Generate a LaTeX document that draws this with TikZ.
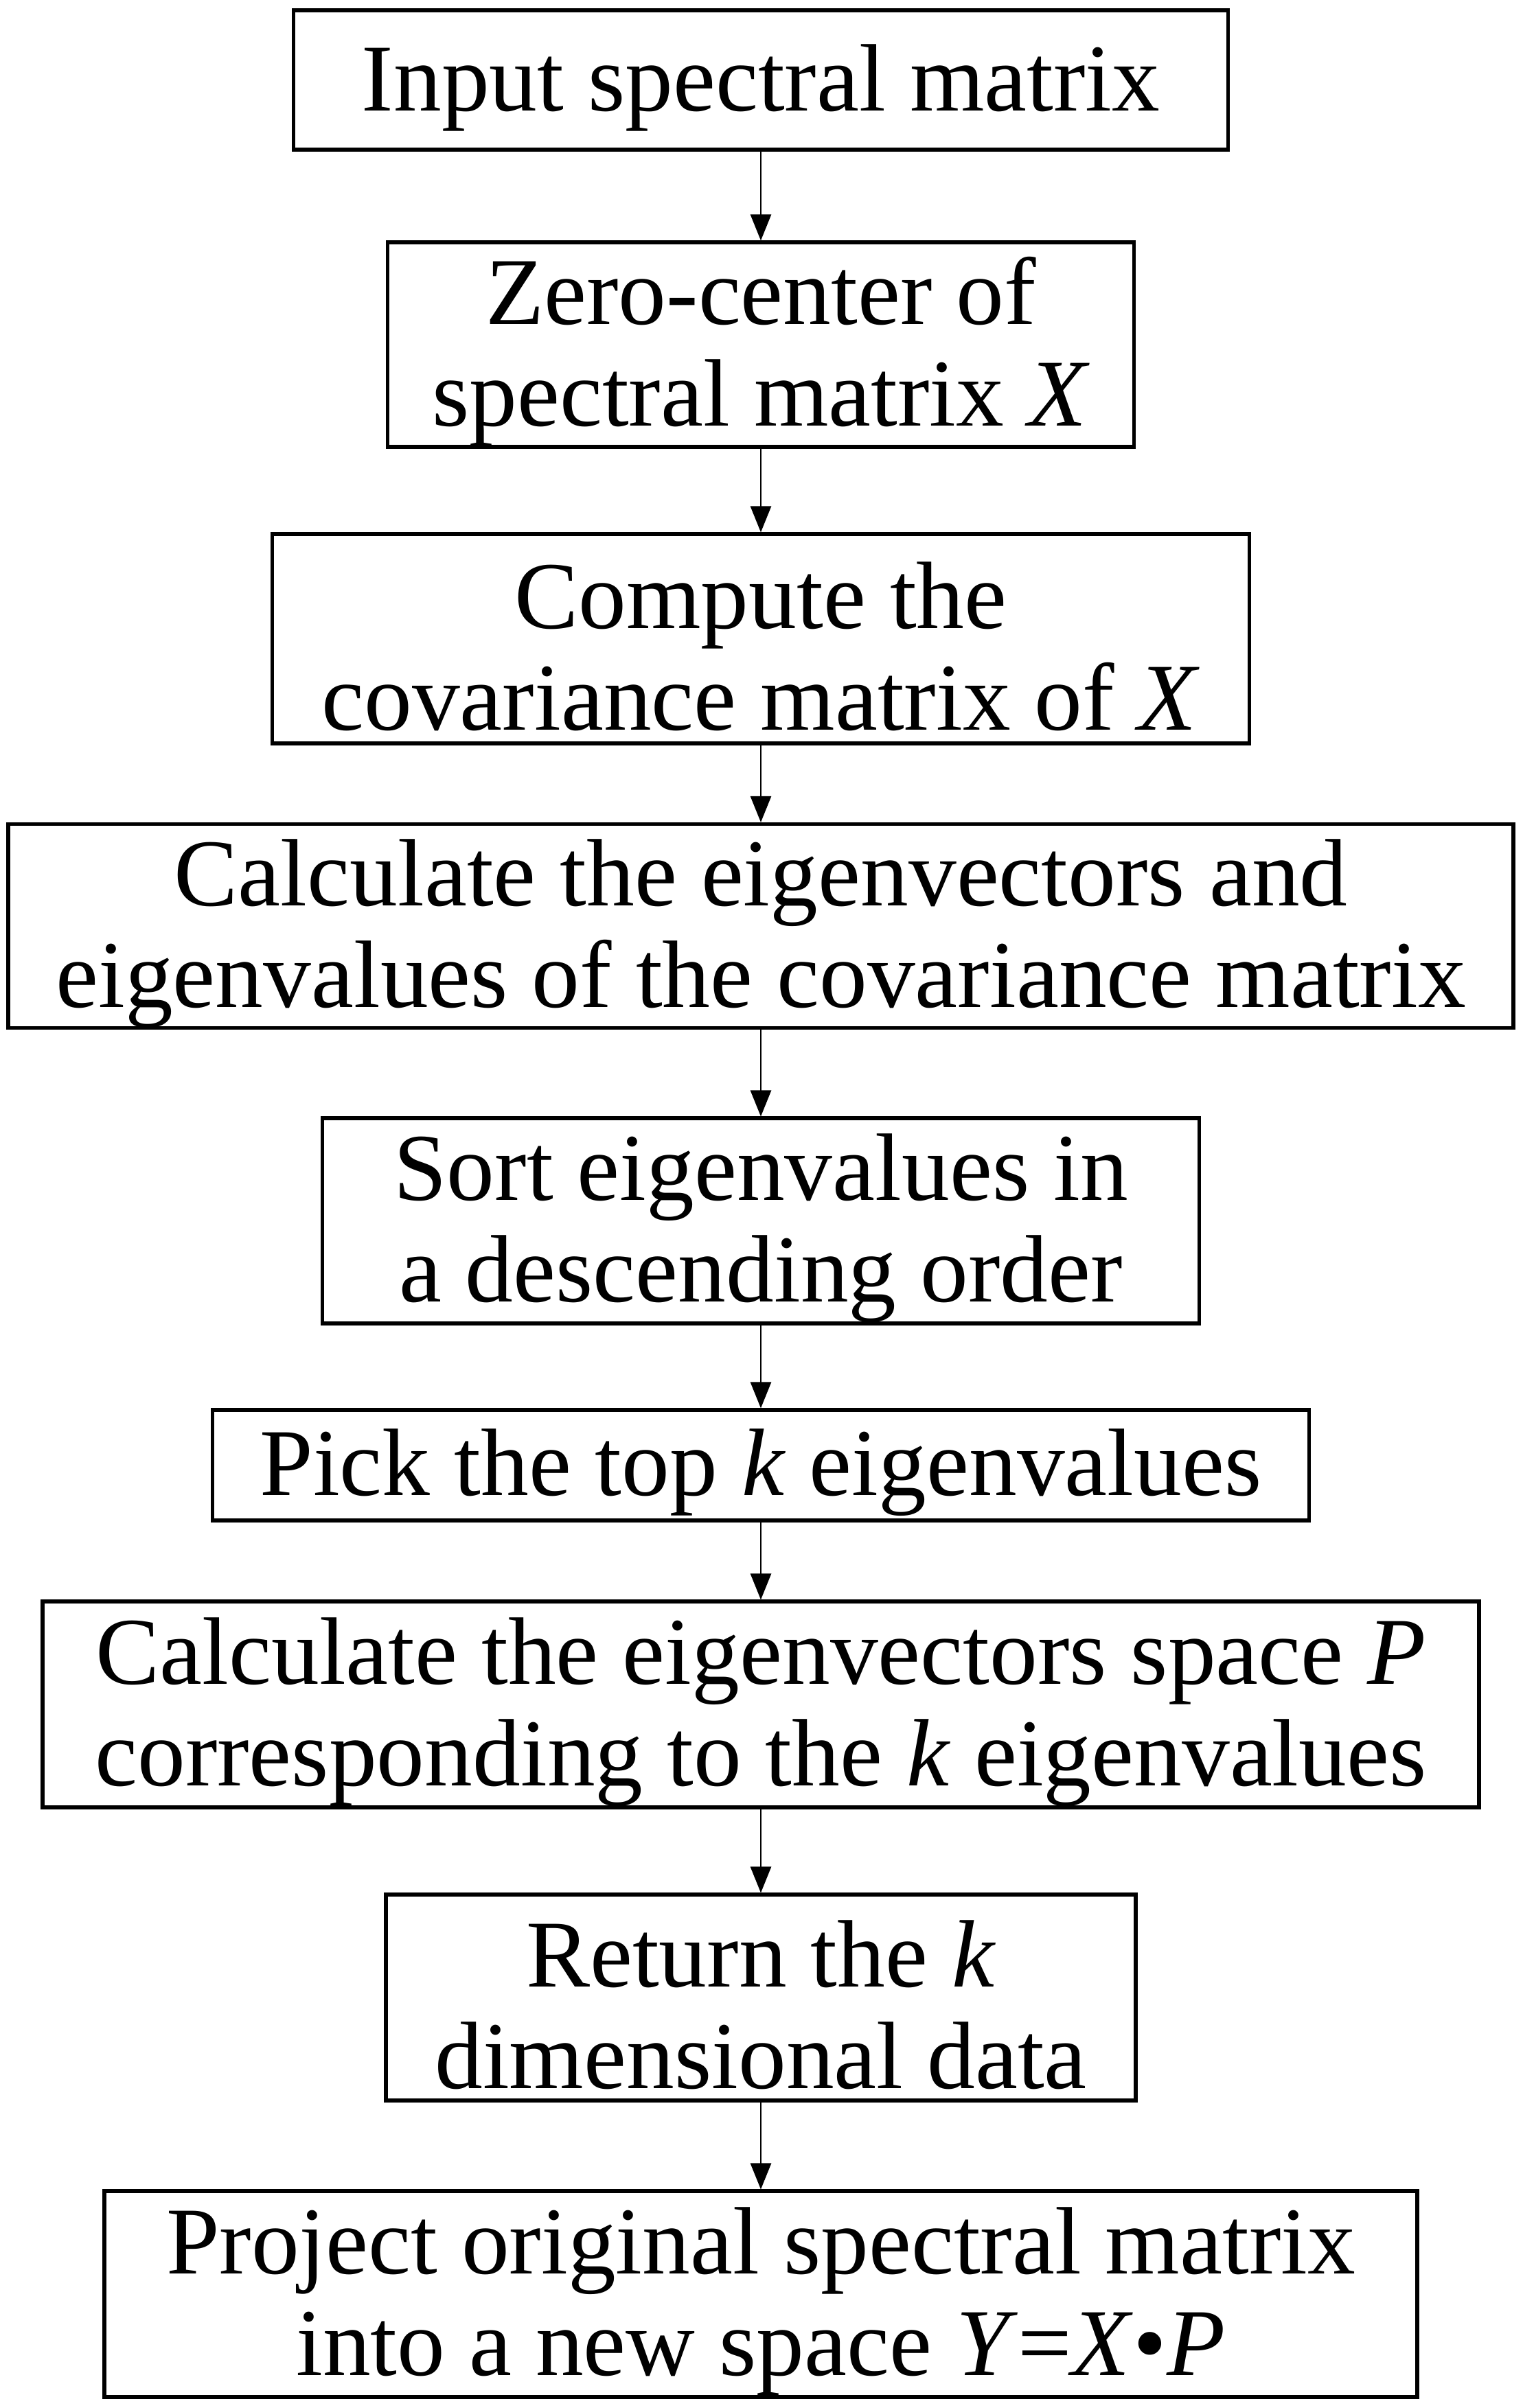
\documentclass[tikz,border=0pt]{standalone}
\usepackage{fontspec}
\setmainfont{Liberation Serif}
\usepackage{tikz}
\usetikzlibrary{arrows.meta,positioning}
\newcommand{\topgap}{\rule{0pt}{1.19cm}}

\begin{document}
\begin{tikzpicture}[
  font=\fontsize{39.7}{42.1}\selectfont,
  stepbox/.style={draw=black,line width=1.45pt,align=center,inner sep=0pt,minimum height=3cm},
  flow/.style={draw=black,line width=0.75pt,-{Triangle[length=0.38cm,width=0.3cm]}},
]
\useasboundingbox (0,0) rectangle (22.17,-35.08);
\node[stepbox,minimum width=13.61cm,minimum height=2.03cm] (input) at (11.08,-1.165) {\topgap Input spectral matrix};
\node[stepbox,minimum width=10.87cm,minimum height=2.98cm] (zero) at (11.08,-5.02) {\topgap Zero-center of\\spectral matrix \textit{X}};
\node[stepbox,minimum width=14.23cm,minimum height=3.05cm] (cov) at (11.08,-9.305) {\topgap Compute the\\covariance matrix of \textit{X}};
\node[stepbox,minimum width=21.92cm,minimum height=2.96cm] (eig) at (11.08,-13.49) {\topgap Calculate the eigenvectors and\\eigenvalues of the covariance matrix};
\node[stepbox,minimum width=12.77cm,minimum height=2.99cm] (sort) at (11.08,-17.785) {\topgap Sort eigenvalues in\\a descending order};
\node[stepbox,minimum width=15.97cm,minimum height=1.61cm] (pick) at (11.08,-21.345) {\topgap Pick the top \textit{k} eigenvalues};
\node[stepbox,minimum width=20.92cm] (space) at (11.08,-24.83) {\topgap Calculate the eigenvectors space \textit{P}\\corresponding to the \textit{k} eigenvalues};
\node[stepbox,minimum width=10.92cm] (ret) at (11.08,-29.10) {\topgap Return the \textit{k}\\dimensional data};
\node[stepbox,minimum width=19.12cm] (proj) at (11.08,-33.42) {\topgap Project original spectral matrix\\into a new space \textit{Y}=\textit{X}•\textit{P}};
% arrows between the steps
\draw[flow] (input) -- (zero);
\draw[flow] (zero) -- (cov);
\draw[flow] (cov) -- (eig);
\draw[flow] (eig) -- (sort);
\draw[flow] (sort) -- (pick);
\draw[flow] (pick) -- (space);
\draw[flow] (space) -- (ret);
\draw[flow] (ret) -- (proj);
\end{tikzpicture}
\end{document}
